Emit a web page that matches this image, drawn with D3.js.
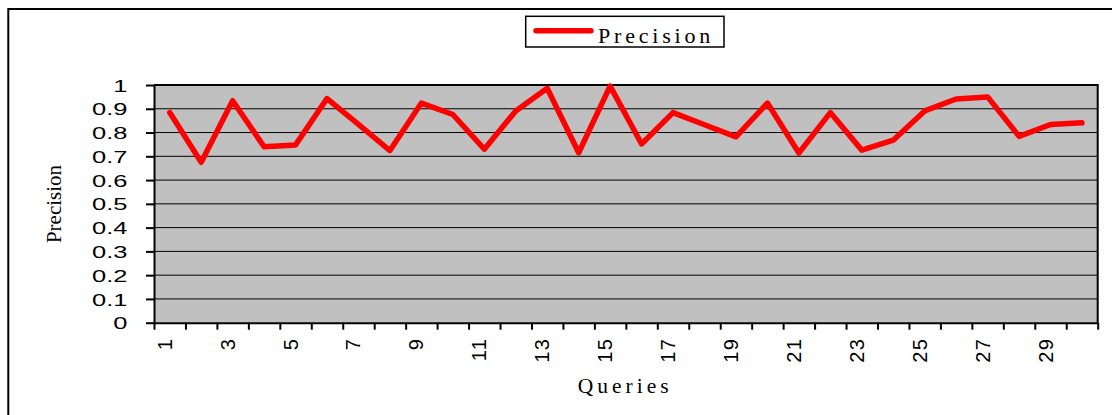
<!DOCTYPE html>
<html>
<head>
<meta charset="utf-8">
<script src="https://cdn.jsdelivr.net/npm/d3@7"></script>
<style>
  html, body { margin: 0; padding: 0; background: #fff; }
  svg { display: block; }
</style>
</head>
<body>
<svg id="chart" width="1112" height="415"></svg>
<script>
// ---- data ----
const queries = ["1","2","3","4","5","6","7","8","9","10","11","12","13","14","15",
                 "16","17","18","19","20","21","22","23","24","25","26","27","28","29","30"];
const precision = [0.884, 0.675, 0.934, 0.740, 0.748, 0.943, 0.834, 0.724, 0.924, 0.876,
                   0.730, 0.891, 0.986, 0.715, 0.995, 0.752, 0.884, 0.833, 0.782, 0.924,
                   0.714, 0.884, 0.726, 0.768, 0.891, 0.941, 0.950, 0.784, 0.834, 0.841];
const yTickValues = [0, 0.1, 0.2, 0.3, 0.4, 0.5, 0.6, 0.7, 0.8, 0.9, 1];
const yTickLabels = ["0","0.1","0.2","0.3","0.4","0.5","0.6","0.7","0.8","0.9","1"];
const xTickLabels = ["1","3","5","7","9","11","13","15","17","19","21","23","25","27","29"];
const seriesName = "Precision";
const xTitle = "Queries";
const yTitle = "Precision";

// ---- layout ----
const L = 154, R = 1097.7, T = 85, B = 322.7;
const SANS = "'Liberation Sans', Arial, sans-serif";
const SERIF = "'Liberation Serif', 'Times New Roman', serif";

const svg = d3.select("#chart");
svg.append("rect").attr("width", 1112).attr("height", 415).attr("fill", "#fff");

// outer frame (open on right/bottom, clipped)
svg.append("path").attr("d", "M8.3,415 V9 H1112")
  .attr("fill", "none").attr("stroke", "#000").attr("stroke-width", 2);

const x = d3.scaleBand().domain(queries).range([L, R]).padding(0);
const xEdge = d3.scaleLinear().domain([0, queries.length]).range([L, R]);
const y = d3.scaleLinear().domain([0, 1]).range([B, T]);

// plot area
svg.append("rect").attr("x", L).attr("y", T).attr("width", R - L).attr("height", B - T)
  .attr("fill", "#c0c0c0");

// gridlines
svg.append("g").selectAll("line")
  .data(yTickValues.filter(v => v > 0 && v < 1))
  .join("line")
  .attr("x1", L).attr("x2", R)
  .attr("y1", d => y(d)).attr("y2", d => y(d))
  .attr("stroke", "#000").attr("stroke-width", 1);

// top & right border
svg.append("path").attr("d", `M${L},${T} H${R} V${B}`)
  .attr("fill", "none").attr("stroke", "#000").attr("stroke-width", 2);

// y axis
const yAxis = svg.append("g").attr("transform", `translate(${L},0)`)
  .call(d3.axisLeft(y).tickValues(yTickValues)
    .tickFormat((d, i) => yTickLabels[i]).tickSize(8).tickSizeOuter(0));
yAxis.select(".domain").attr("stroke", "#000").attr("stroke-width", 2);
yAxis.selectAll(".tick line").attr("stroke", "#000").attr("stroke-width", 2);
yAxis.selectAll(".tick text")
  .attr("x", 0).attr("dy", "0.36em")
  .attr("transform", "translate(-26.5,0) scale(1.5,1)")
  .attr("text-anchor", "end")
  .attr("font-family", SANS).attr("font-size", 17).attr("fill", "#000");

// x axis (ticks at category boundaries)
const xAxis = svg.append("g").attr("transform", `translate(0,${B})`)
  .call(d3.axisBottom(xEdge).tickValues(d3.range(0, queries.length + 1))
    .tickFormat("").tickSize(7).tickSizeOuter(0));
xAxis.select(".domain").attr("stroke", "#000").attr("stroke-width", 2);
xAxis.selectAll(".tick line").attr("stroke", "#000").attr("stroke-width", 2);

// x tick labels (rotated)
svg.append("g").selectAll("text")
  .data(xTickLabels)
  .join("text")
  .attr("transform", d => `translate(${x(d) + x.bandwidth() / 2 + 2},338) rotate(-90)`)
  .attr("text-anchor", "end")
  .attr("font-family", SANS).attr("font-size", 20)
  .attr("letter-spacing", 1.2)
  .attr("fill", "#000")
  .text(d => d);

// data line
const line = d3.line()
  .x((d, i) => x(queries[i]) + x.bandwidth() / 2)
  .y(d => y(d));
svg.append("path").datum(precision)
  .attr("d", line)
  .attr("fill", "none").attr("stroke", "#ff0000").attr("stroke-width", 5.5)
  .attr("stroke-linejoin", "round").attr("stroke-linecap", "round");

// axis titles
svg.append("text")
  .attr("x", 577.7).attr("y", 392.7)
  .attr("font-family", SERIF).attr("font-size", 21.5).attr("letter-spacing", 4)
  .attr("fill", "#000").text(xTitle);

svg.append("text")
  .attr("transform", "translate(61,204) rotate(-90)")
  .attr("text-anchor", "middle")
  .attr("font-family", SERIF).attr("font-size", 21)
  .attr("fill", "#000").text(yTitle);

// legend
const lg = svg.append("g");
lg.append("rect").attr("x", 525.7).attr("y", 16.3).attr("width", 198.3).attr("height", 30.7)
  .attr("fill", "#fff").attr("stroke", "#000").attr("stroke-width", 1.5);
lg.append("line").attr("x1", 536).attr("x2", 591).attr("y1", 30.7).attr("y2", 30.7)
  .attr("stroke", "#ff0000").attr("stroke-width", 5.5).attr("stroke-linecap", "round");
lg.append("text").attr("x", 598).attr("y", 42.7)
  .attr("font-family", SERIF).attr("font-size", 22).attr("letter-spacing", 3.8)
  .attr("fill", "#000").text(seriesName);
</script>
</body>
</html>
